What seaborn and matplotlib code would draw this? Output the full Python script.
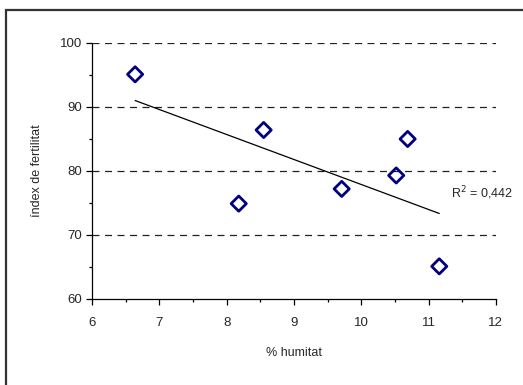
import matplotlib
matplotlib.use("Agg")
import matplotlib.pyplot as plt
from matplotlib.patches import Rectangle
from matplotlib.ticker import MultipleLocator
import numpy as np
import pandas as pd
import seaborn as sns

# Soil moisture (%) vs. fertility index per plot
humitat = [6.64, 8.18, 8.55, 9.71, 10.52, 10.69, 11.16]
fertilitat = [95.1, 74.9, 86.4, 77.2, 79.3, 85.0, 65.1]

x_label = "% humitat"
y_label = "índex de fertilitat"

sns.set_theme(style="white")
plt.rcParams["font.family"] = ["Liberation Sans", "DejaVu Sans"]

df = pd.DataFrame({"humitat": humitat, "fertilitat": fertilitat})

fig = plt.figure(figsize=(5.23, 3.85), dpi=100)
ax = fig.add_axes([0.176, 0.2234, 0.772, 0.665])

# Horizontal dashed grid
for yv in [70, 80, 90, 100]:
    ax.axhline(yv, color="#222222", lw=0.9, dashes=(5.6, 4.4), zorder=0)

# Linear trend line over the observed range
sns.regplot(data=df, x="humitat", y="fertilitat", ax=ax, ci=None, scatter=False,
            line_kws=dict(color="black", lw=0.9), truncate=True)

sns.scatterplot(data=df, x="humitat", y="fertilitat", ax=ax, marker="D", s=60,
                facecolor="none", edgecolor="#000080", linewidth=2.0, zorder=3)

r2 = np.corrcoef(humitat, fertilitat)[0, 1] ** 2
ax.text(11.34, 76.6, "R$^2$ = " + f"{r2:.3f}".replace(".", ","), fontsize=9,
        ha="left", va="center")

ax.set_xlim(6, 12)
ax.set_ylim(60, 100)
ax.xaxis.set_major_locator(MultipleLocator(1))
ax.xaxis.set_minor_locator(MultipleLocator(0.5))
ax.yaxis.set_major_locator(MultipleLocator(10))
ax.yaxis.set_minor_locator(MultipleLocator(5))
ax.tick_params(axis="both", which="major", direction="out", length=4, width=0.9,
               color="black", labelsize=9.5, pad=3, bottom=True, left=True)
ax.tick_params(axis="both", which="minor", direction="out", length=2.5, width=0.9,
               color="black", bottom=True, left=True)
ax.tick_params(axis="x", pad=9)

for side in ["top", "right"]:
    ax.spines[side].set_visible(False)
for side in ["left", "bottom"]:
    ax.spines[side].set_color("black")
    ax.spines[side].set_linewidth(0.9)

ax.set_xlabel(x_label, fontsize=9, labelpad=13)
ax.set_ylabel(y_label, fontsize=9, labelpad=12)

# Chart-area border
fig.patches.append(Rectangle((6 / 523, -0.2), 1.2, 1 - 9.5 / 385 + 0.2,
                             transform=fig.transFigure, fill=False,
                             edgecolor="#333333", lw=1.6, clip_on=False))

fig.savefig("out.png", dpi=100)
